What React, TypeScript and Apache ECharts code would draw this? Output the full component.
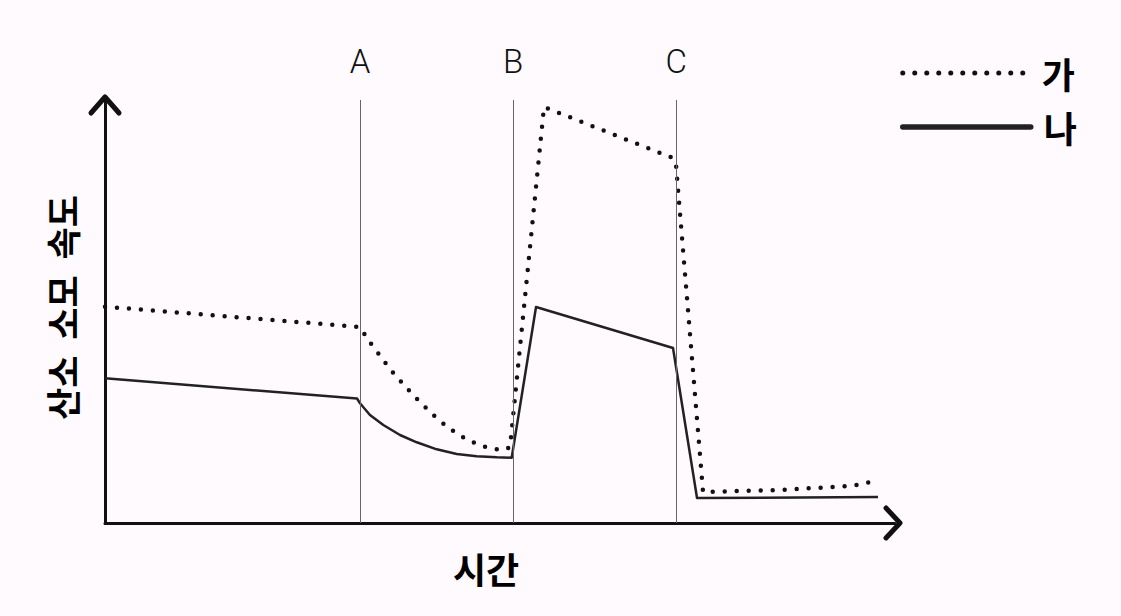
import React, { useEffect, useRef } from "react";
import * as echarts from "echarts";

// Series 가 (dotted)
const timeGa = [0, 32.28, 33.16, 34.05, 35.06, 35.95, 36.96, 37.97, 38.99, 40.13, 41.27, 42.41, 43.54, 44.81, 46.2, 47.72, 49.11, 50.63, 51.27, 55.57, 71.9, 72.28, 75.7, 85.44, 94.3, 95.95, 97.72];
const rateGa = [51.14, 46.34, 43.74, 41.37, 39.01, 36.64, 34.52, 32.39, 30.26, 28.13, 26.0, 24.11, 22.46, 20.8, 19.39, 18.2, 17.49, 17.26, 17.97, 98.35, 86.29, 84.63, 7.33, 7.8, 8.75, 9.22, 10.17];

// Series 나 (solid)
const timeNa = [0, 31.9, 32.28, 33.54, 35.23, 37.34, 39.46, 41.99, 44.52, 47.05, 49.58, 51.48, 54.56, 71.9, 74.94, 97.85];
const rateNa = [34.21, 29.43, 28.3, 25.53, 23.17, 20.8, 19.08, 17.42, 16.31, 15.77, 15.53, 15.44, 51.06, 41.37, 5.91, 6.15];

const eventNames = ["A", "B", "C"];
const eventTimes = [32.3, 51.65, 72.3];
const seriesNames = ["가", "나"];
const xAxisName = "시간";
const yAxisName = "산소  소모  속도";

const KR = "'Noto Sans CJK KR', 'Noto Sans', sans-serif";

export default function App() {
  const ref = useRef<HTMLDivElement>(null);
  useEffect(() => {
    document.body.style.margin = "0";
    const chart = echarts.init(ref.current!, null, { renderer: "svg" });
    const pairs = (xs: number[], ys: number[]) => xs.map((x, i) => [x, ys[i]]);
    chart.setOption({
      animation: false,
      backgroundColor: "#fefafe",
      grid: { left: 105, top: 100, width: 790, height: 423 },
      title: {
        text: xAxisName,
        left: 448,
        top: 545,
        textStyle: { fontSize: 36, fontWeight: "bold", fontFamily: KR, color: "#000" },
      },
      legend: {
        orient: "vertical",
        left: 895,
        top: 50,
        itemWidth: 128,
        itemHeight: 30,
        itemGap: 18,
        itemStyle: { opacity: 0 },
        textStyle: { fontSize: 36, fontWeight: "bold", fontFamily: KR, color: "#000", padding: [0, 0, 0, 6] },
        data: [
          { name: seriesNames[0], lineStyle: { width: 5 } },
          { name: seriesNames[1], lineStyle: { width: 5.5, cap: "round" }, textStyle: { padding: [8, 0, 0, 8] } },
        ],
      },
      xAxis: {
        type: "value",
        min: 0,
        max: 100,
        axisLine: { show: true, lineStyle: { color: "#111", width: 3 } },
        axisTick: { show: false },
        axisLabel: { show: false },
        splitLine: { show: false },
      },
      yAxis: {
        type: "value",
        min: 0,
        max: 100,
        name: yAxisName,
        nameLocation: "middle",
        nameRotate: 90,
        nameGap: 26,
        nameTextStyle: { fontSize: 35, fontWeight: "bold", fontFamily: KR, color: "#000", padding: [0, 0, 0, 8] },
        axisLine: { show: true, lineStyle: { color: "#111", width: 3 } },
        axisTick: { show: false },
        axisLabel: { show: false },
        splitLine: { show: false },
      },
      series: [
        {
          name: seriesNames[0],
          type: "line",
          data: pairs(timeGa, rateGa),
          symbol: "none",
          lineStyle: { color: "#111", width: 4.5, type: [0, 12], cap: "round" },
          itemStyle: { color: "#111" },
          z: 3,
        },
        {
          name: seriesNames[1],
          type: "line",
          data: pairs(timeNa, rateNa),
          symbol: "none",
          lineStyle: { color: "#222", width: 2.5, type: "solid", join: "round" },
          itemStyle: { color: "#222" },
          z: 3,
          markLine: {
            silent: true,
            symbol: "none",
            lineStyle: { color: "#666", width: 1, type: "solid" },
            label: {
              show: true,
              position: "end",
              formatter: "{b}",
              distance: 22,
              fontSize: 33,
              fontWeight: 300,
              fontFamily: "Roboto, 'Liberation Sans', sans-serif",
              color: "#111",
            },
            data: eventNames.map((n, i) => ({ name: n, xAxis: eventTimes[i] })),
          },
        },
      ],
    });
    const yTip = chart.convertToPixel({ gridIndex: 0 }, [0, 100]) as number[];
    const xTip = chart.convertToPixel({ gridIndex: 0 }, [100, 0]) as number[];
    const arrowStyle = { stroke: "#111", lineWidth: 5, fill: null, lineCap: "round", lineJoin: "round" };
    chart.setOption({
      graphic: [
        {
          type: "polyline",
          shape: { points: [[yTip[0] - 14, yTip[1] + 13], [yTip[0], yTip[1] - 3], [yTip[0] + 14, yTip[1] + 13]] },
          style: arrowStyle,
          z: 10,
        },
        {
          type: "polyline",
          shape: { points: [[xTip[0] - 9, xTip[1] - 15], [xTip[0] + 5, xTip[1]], [xTip[0] - 9, xTip[1] + 15]] },
          style: arrowStyle,
          z: 10,
        },
      ],
    });
    return () => chart.dispose();
  }, []);
  return <div ref={ref} style={{ width: 1121, height: 616 }} />;
}
